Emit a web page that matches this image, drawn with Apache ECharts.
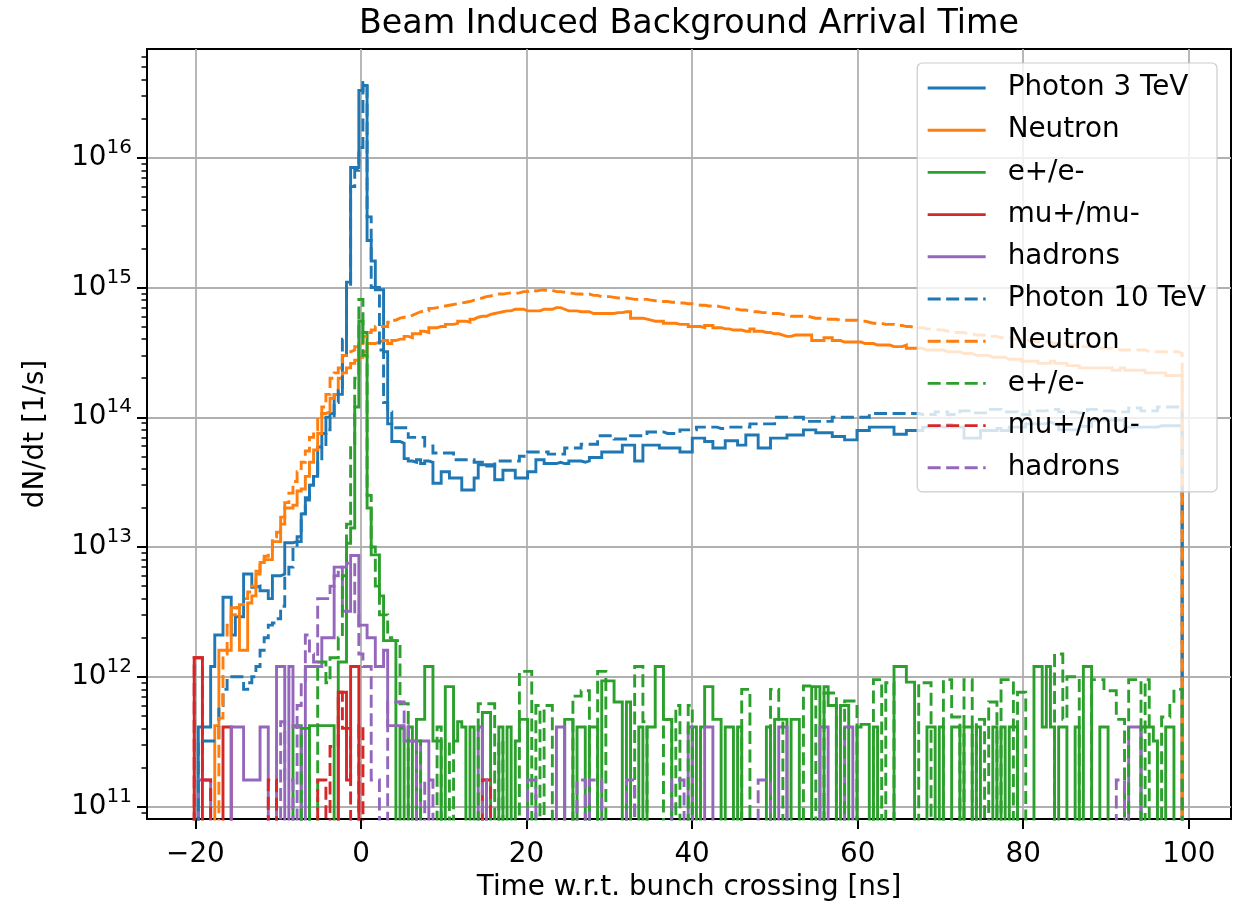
<!DOCTYPE html>
<html><head><meta charset="utf-8">
<script src="https://cdn.jsdelivr.net/npm/echarts@6/dist/echarts.min.js"></script>
<style>html,body{margin:0;padding:0;background:#fff}#c{width:1242px;height:907px}</style>
</head><body><div id="c"></div>
<script>
// ---- histogram binning (ns) ----
const binStart = -20.15;
const binWidth = 0.4973;

// ---- series values: dN/dt [1/s] per bin (240 bins) ----
const photon3 = [
0,4.1e11,4.1e11,4.1e11,1.2e12,2.1e12,2.1e12,4.1e12,4.1e12,2.1e12,2.9e12,2.9e12,6.2e12,6.2e12,4.9e12,5.0e12,4.6e12,4.6e12,4.0e12,6.0e12,
6.0e12,6.2e12,1.08e13,1.08e13,1.1e13,1.1e13,1.8e13,2.4e13,3.0e13,3.5e13,5.9e13,7.5e13,1.0e14,1.07e14,1.5e14,1.5e14,3.0e14,1.1e15,8.4e15,8.4e15,
3.3e16,3.6e16,2.3e15,1.6e15,9.6e14,9.6e14,3.2e14,8.9e13,6.5e13,6.5e13,6.3e13,4.8e13,4.6e13,4.5e13,4.7e13,4.4e13,4.6e13,4.5e13,3.1e13,3.1e13,
3.8e13,3.8e13,3.4e13,3.4e13,3.4e13,2.75e13,2.75e13,2.75e13,3.4e13,4.3e13,4.3e13,4.3e13,4.3e13,3.3e13,3.3e13,3.9e13,3.9e13,3.9e13,3.4e13,3.4e13,
3.4e13,3.8e13,3.8e13,4.7e13,4.7e13,4.4e13,4.4e13,4.4e13,4.5e13,4.4e13,4.4e13,4.6e13,4.6e13,4.6e13,4.5e13,4.6e13,4.9e13,4.9e13,4.9e13,5.4e13,
5.4e13,5.4e13,5.4e13,5.4e13,6.1e13,6.1e13,6.1e13,4.6e13,4.6e13,6.1e13,6.1e13,6.1e13,6.1e13,5.8e13,5.8e13,5.8e13,5.8e13,5.8e13,5.4e13,5.4e13,
5.4e13,6.9e13,6.9e13,6.9e13,6.5e13,6.5e13,5.8e13,5.8e13,5.8e13,6.6e13,6.6e13,6.6e13,6.1e13,6.1e13,7.3e13,7.3e13,7.3e13,5.8e13,5.8e13,5.8e13,
6.9e13,6.9e13,6.9e13,6.9e13,7.3e13,7.3e13,7.3e13,7.3e13,8.0e13,8.0e13,8.0e13,7.6e13,7.6e13,7.6e13,7.6e13,7.1e13,7.1e13,7.1e13,6.7e13,6.7e13,
6.7e13,7.9e13,7.9e13,7.9e13,8.4e13,8.4e13,8.4e13,8.4e13,8.4e13,8.4e13,7.4e13,7.4e13,7.4e13,7.9e13,7.9e13,7.9e13,7.9e13,8.4e13,8.4e13,8.4e13,
8.6e13,8.4e13,8.4e13,8.8e13,8.4e13,8.4e13,8.4e13,6.9e13,6.9e13,6.9e13,6.9e13,7.9e13,7.9e13,7.9e13,7.9e13,8.2e13,7.9e13,7.9e13,8.4e13,8.4e13,
8.4e13,8.4e13,8.9e13,8.9e13,8.9e13,8.9e13,8.9e13,9.2e13,8.9e13,8.9e13,8.0e13,8.0e13,8.0e13,8.0e13,8.0e13,8.5e13,8.5e13,8.5e13,9.5e13,9.5e13,
9.5e13,9.5e13,9.5e13,9.5e13,9.5e13,9.5e13,8.4e13,8.4e13,8.4e13,8.4e13,8.4e13,8.4e13,8.4e13,8.4e13,8.6e13,8.6e13,8.6e13,8.6e13,8.6e13,8.6e13];

const neutron3 = [
0,0,0,0,0,4.2e11,1.6e12,1.6e12,1.6e12,3.4e12,3.4e12,1.6e12,1.6e12,3.7e12,4.2e12,6.2e12,7.6e12,8e12,8e12,1.1e13,
1.1e13,1.5e13,2.0e13,2.0e13,2.1e13,2.7e13,2.8e13,3.5e13,4.5e13,5.6e13,7.5e13,1.07e14,1.1e14,1.4e14,1.5e14,2.0e14,2.2e14,2.4e14,2.6e14,2.75e14,
2.9e14,3.2e14,3.7e14,3.7e14,3.8e14,3.9e14,3.9e14,3.7e14,3.9e14,4.0e14,4.0e14,4.2e14,4.1e14,4.4e14,4.4e14,4.6e14,4.5e14,4.9e14,4.9e14,5.0e14,
5.0e14,5.2e14,5.2e14,5.3e14,5.5e14,5.5e14,5.4e14,5.7e14,5.9e14,6.0e14,6.0e14,6.2e14,6.3e14,6.4e14,6.5e14,6.6e14,6.6e14,6.8e14,6.8e14,6.8e14,
6.6e14,6.6e14,6.6e14,6.6e14,6.8e14,6.8e14,6.8e14,7.0e14,7.0e14,6.8e14,6.6e14,6.6e14,6.6e14,6.5e14,6.5e14,6.5e14,6.3e14,6.3e14,6.3e14,6.3e14,
6.3e14,6.3e14,6.4e14,6.4e14,6.5e14,6.5e14,5.8e14,5.8e14,5.8e14,5.7e14,5.6e14,5.5e14,5.5e14,5.5e14,5.3e14,5.3e14,5.3e14,5.2e14,5.2e14,5.2e14,
5.0e14,5.0e14,5.0e14,4.9e14,5.1e14,5.1e14,4.9e14,4.9e14,4.8e14,4.8e14,4.7e14,4.7e14,4.7e14,4.6e14,4.6e14,4.8e14,4.6e14,4.6e14,4.5e14,4.5e14,
4.4e14,4.4e14,4.3e14,4.2e14,4.2e14,4.3e14,4.3e14,4.3e14,4.3e14,4.3e14,3.9e14,3.9e14,3.9e14,4.1e14,4.1e14,3.9e14,3.9e14,3.8e14,3.8e14,3.8e14,
3.8e14,3.8e14,3.7e14,3.7e14,3.7e14,3.6e14,3.6e14,3.6e14,3.6e14,3.5e14,3.5e14,3.5e14,3.6e14,3.4e14,3.4e14,3.4e14,3.4e14,3.3e14,3.3e14,3.3e14,
3.3e14,3.3e14,3.2e14,3.2e14,3.2e14,3.2e14,3.1e14,3.1e14,3.1e14,3.0e14,3.0e14,3.0e14,3.0e14,2.9e14,2.9e14,2.9e14,2.9e14,2.8e14,2.8e14,2.8e14,
2.8e14,2.7e14,2.7e14,2.7e14,2.7e14,2.6e14,2.6e14,2.6e14,2.7e14,2.6e14,2.6e14,2.6e14,2.5e14,2.5e14,2.5e14,2.4e14,2.4e14,2.4e14,2.4e14,2.4e14,
2.4e14,2.4e14,2.4e14,2.3e14,2.3e14,2.4e14,2.3e14,2.3e14,2.3e14,2.3e14,2.3e14,2.2e14,2.2e14,2.2e14,2.2e14,2.2e14,2.1e14,2.1e14,2.1e14,2.1e14];

const ee3 = [
0,0,0,0,0,0,0,0,0,0,0,0,0,0,0,0,0,0,0,0,
0,0,0,0,4.2e11,4.2e11,0,0,4.2e11,4.2e11,4.2e11,4.2e11,4.2e11,4.2e11,0,1.3e12,1.3e12,1.07e13,1.4e13,1.2e14,
5.5e14,4.5e14,2.0e13,8.7e12,8.7e12,4.2e12,1.9e12,1.9e12,1.9e12,0,4.0e11,0,4.1e11,0,4.7e11,4.7e11,1.2e12,1.2e12,3.2e11,3.2e11,
0,8.4e11,8.4e11,3.2e11,4.5e11,4.1e11,0,4.1e11,0,0,5.3e11,5.3e11,0,0,4.1e11,0,4.1e11,0,3.2e11,4.7e11,
4.7e11,0,0,0,0,0,0,0,0,0,4.7e11,4.7e11,0,4.1e11,4.1e11,0,4.1e11,4.1e11,0,9.3e11,
9.3e11,9.3e11,6.4e11,6.4e11,0,6.4e11,0,0,4.1e11,0,4.1e11,4.1e11,1.2e12,1.2e12,4.7e11,4.7e11,0,0,0,0,
0,4.1e11,0,4.1e11,8.4e11,8.4e11,4.7e11,4.7e11,0,4.1e11,4.1e11,0,4.1e11,0,0,0,0,0,0,4.1e11,
0,4.7e11,4.7e11,4.7e11,0,4.7e11,4.7e11,0,0,0,8.4e11,8.4e11,0,8.4e11,6e11,6e11,0,6e11,6e11,0,
0,4.1e11,4.3e11,4.3e11,0,4.1e11,0,0,0,0,1.2e12,1.2e12,1.2e12,9.1e11,9.1e11,0,0,0,4.1e11,4.1e11,
0,4.1e11,0,0,4.1e11,4.1e11,0,4.1e11,4.1e11,0,4.1e11,0,0,0,4.1e11,0,4.1e11,0,4.1e11,4.1e11,
0,0,0,0,1.2e12,1.2e12,4.1e11,1.2e12,4.1e11,0,4.1e11,4.1e11,0,0,4.1e11,0,1.2e12,1.2e12,0,0,
4.1e11,4.1e11,0,0,0,0,0,0,0,0,4.1e11,4.1e11,4.1e11,3.2e11,0,0,4.1e11,4.1e11,0,0];

const mumu3 = [
1.4e12,1.4e12,0,0,0,0,0,4.1e11,4.1e11,0,0,0,0,0,0,0,0,0,0,0,
0,0,0,0,0,0,0,0,0,0,0,0,0,0,0,7.6e11,7.6e11,1.6e11,1.2e12,1.2e12,
0,0,0,0,0,0,0,0,0,0,0,0,0,0,0,0,0,0,0,0,
0,0,0,0,0,0,0,0,0,0,0,0,0,0,0,0,0,0,0,0,
0,0,0,0,0,0,0,0,0,0,0,0,0,0,0,0,0,0,0,0,
0,0,0,0,0,0,0,0,0,0,0,0,0,0,0,0,0,0,0,0,
0,0,0,0,0,0,0,0,0,0,0,0,0,0,0,0,0,0,0,0,
0,0,0,0,0,0,0,0,0,0,0,0,0,0,0,0,0,0,0,0,
0,0,0,0,0,0,0,0,0,0,0,0,0,0,0,0,0,0,0,0,
0,0,0,0,0,0,0,0,0,0,0,0,0,0,0,0,0,0,0,0,
0,0,0,0,0,0,0,0,0,0,0,0,0,0,0,0,0,0,0,0,
0,0,0,0,0,0,0,0,0,0,0,0,0,0,0,0,0,0,0,0];

const hadrons3 = [
0,1.6e11,1.6e11,1.6e11,0,0,0,0,0,4.1e11,4.1e11,4.1e11,1.6e11,1.6e11,1.6e11,1.6e11,4.1e11,4.1e11,0,0,
1.2e12,1.2e12,0,1.2e12,4.1e11,4.1e11,0,1.2e12,1.2e12,1.2e12,1.2e12,2.0e12,2.0e12,2.0e12,7e12,7e12,3.2e12,3.2e12,8.6e12,8.6e12,
2.5e12,2.5e12,2.0e12,2.0e12,1.2e12,1.2e12,1.6e12,4.2e11,4.2e11,4.2e11,4.2e11,3.2e11,3.2e11,3.2e11,0,3.2e11,3.2e11,0,0,0,
0,0,0,0,0,0,0,0,0,4.1e11,1.6e11,0,0,0,0,0,0,0,0,0,
0,0,0,0,0,0,0,0,4.1e11,4.1e11,0,0,0,0,0,0,0,0,0,0,
0,0,0,0,0,0,0,0,0,0,0,0,0,0,0,0,0,0,0,0,
4.1e11,0,0,0,4.1e11,4.1e11,0,0,0,0,0,0,0,0,0,0,0,0,0,0,
0,0,4.1e11,4.1e11,0,0,0,0,0,0,0,0,4.1e11,4.1e11,0,0,0,0,4.1e11,4.1e11,
0,0,0,0,0,0,0,0,0,0,0,0,0,0,0,0,0,0,0,0,
0,0,0,0,0,0,0,0,0,0,0,0,0,0,0,0,0,0,0,0,
0,0,0,0,0,0,0,0,0,0,0,0,0,0,0,0,0,0,0,0,
0,0,0,0,0,0,0,4.1e11,4.1e11,4.1e11,0,0,0,0,0,0,0,0,0,0];

const photon10 = [
0,3.2e11,3.2e11,3.2e11,3.2e11,3.2e11,6e11,8e11,1.0e12,1.0e12,1.0e12,1.0e12,8e11,9e11,1.0e12,1.2e12,1.6e12,2.0e12,2.5e12,2.6e12,
2.8e12,3.5e12,6e12,7e12,1.0e13,1.2e13,1.8e13,2.3e13,3.0e13,3.5e13,4.5e13,6e13,8e13,1.0e14,1.3e14,1.6e14,4e14,1e15,6e15,8e15,
1.2e16,3.8e16,3.5e15,1.0e15,1.0e15,3.3e14,1.3e14,1.1e14,8.3e13,8.3e13,8.3e13,8.3e13,7e13,7e13,7e13,7e13,6e13,6e13,5.3e13,5.3e13,
5.3e13,5.3e13,5.3e13,4.7e13,4.7e13,4.7e13,4.7e13,4.7e13,4.5e13,4.5e13,4.2e13,4.2e13,4.2e13,4.6e13,4.6e13,4.6e13,4.6e13,4.6e13,4.6e13,5.0e13,
5.0e13,5.4e13,5.4e13,5.4e13,5.4e13,5.4e13,5.2e13,5.2e13,5.2e13,5.2e13,5.8e13,5.8e13,5.8e13,5.8e13,6.2e13,6.2e13,6.2e13,6.2e13,7.2e13,7.2e13,
7.2e13,7.2e13,6.8e13,6.8e13,6.8e13,6.8e13,7.2e13,7.2e13,7.2e13,7.2e13,7.7e13,7.7e13,7.7e13,7.7e13,7.5e13,7.5e13,7.5e13,7.5e13,8.0e13,8.0e13,
8.0e13,8.0e13,8.4e13,8.4e13,8.4e13,8.4e13,8.4e13,8.2e13,8.2e13,8.4e13,8.4e13,8.4e13,8.4e13,8.4e13,8.4e13,8.9e13,8.9e13,8.9e13,8.9e13,8.9e13,
8.9e13,1.0e14,1.0e14,1.0e14,1.0e14,1.0e14,1.0e14,1.0e14,9.3e13,9.3e13,9.3e13,9.3e13,9.3e13,9.3e13,9.3e13,1.0e14,1.0e14,1.0e14,1.0e14,1.0e14,
1.0e14,1.0e14,1.0e14,1.0e14,1.07e14,1.07e14,1.07e14,1.07e14,1.07e14,1.07e14,1.07e14,1.07e14,1.07e14,1.07e14,1.07e14,1.07e14,1.05e14,1.05e14,1.05e14,1.05e14,
1.1e14,1.1e14,1.1e14,1.05e14,1.05e14,1.05e14,1.12e14,1.12e14,1.12e14,1.08e14,1.08e14,1.08e14,1.08e14,1.15e14,1.15e14,1.15e14,1.1e14,1.1e14,1.1e14,1.1e14,
1.05e14,1.05e14,1.05e14,1.12e14,1.12e14,1.12e14,1.12e14,1.15e14,1.15e14,1.15e14,1.1e14,1.1e14,1.1e14,1.1e14,1.08e14,1.08e14,1.08e14,1.15e14,1.15e14,1.15e14,
1.12e14,1.12e14,1.12e14,1.1e14,1.1e14,1.1e14,1.1e14,1.18e14,1.18e14,1.18e14,1.12e14,1.12e14,1.12e14,1.12e14,1.2e14,1.2e14,1.2e14,1.2e14,1.2e14,1.2e14];

const neutron10 = [
0,0,0,0,0,0,4.8e11,1.5e12,2.5e12,3.0e12,3.4e12,3.6e12,4.0e12,4.5e12,5e12,6.5e12,7.5e12,8.5e12,9e12,1.2e13,
1.3e13,1.7e13,2.2e13,2.6e13,3.2e13,3.8e13,4.5e13,5.5e13,7e13,8e13,1.0e14,1.2e14,1.5e14,2.0e14,2.2e14,2.4e14,3.0e14,3.2e14,3.3e14,3.5e14,
3.7e14,4.2e14,4.5e14,4.7e14,5.0e14,5.0e14,5.0e14,5.4e14,5.6e14,5.8e14,5.9e14,5.9e14,6.1e14,6.3e14,6.5e14,6.6e14,6.6e14,6.9e14,7.0e14,7.2e14,
7.2e14,7.3e14,7.4e14,7.5e14,7.6e14,7.7e14,7.8e14,8.0e14,8.2e14,8.3e14,8.5e14,8.6e14,8.8e14,8.9e14,8.9e14,9.0e14,9.1e14,9.0e14,9.1e14,9.3e14,
9.3e14,9.6e14,9.4e14,9.5e14,9.6e14,9.4e14,9.5e14,9.3e14,9.3e14,9.2e14,9.1e14,9.0e14,8.9e14,8.9e14,8.8e14,8.9e14,8.7e14,8.7e14,8.5e14,8.5e14,
8.5e14,8.4e14,8.3e14,8.3e14,8.3e14,8.2e14,8.1e14,8.1e14,8.1e14,8.1e14,8.0e14,7.9e14,7.9e14,7.8e14,7.8e14,7.7e14,7.7e14,7.6e14,7.6e14,7.5e14,
7.5e14,7.4e14,7.3e14,7.3e14,7.2e14,7.2e14,7.2e14,7.1e14,7.0e14,6.9e14,6.9e14,6.8e14,6.7e14,6.7e14,6.6e14,6.5e14,6.5e14,6.4e14,6.4e14,6.3e14,
6.3e14,6.3e14,6.2e14,6.1e14,6.0e14,6.0e14,6.0e14,6.0e14,6.0e14,5.9e14,5.8e14,5.8e14,5.8e14,5.7e14,5.7e14,5.7e14,5.6e14,5.6e14,5.6e14,5.6e14,
5.6e14,5.5e14,5.5e14,5.4e14,5.3e14,5.3e14,5.3e14,5.2e14,5.2e14,5.2e14,5.1e14,5.1e14,5.0e14,5.0e14,4.9e14,4.9e14,4.9e14,4.8e14,4.8e14,4.8e14,
4.7e14,4.7e14,4.6e14,4.6e14,4.5e14,4.5e14,4.5e14,4.4e14,4.4e14,4.3e14,4.3e14,4.3e14,4.2e14,4.2e14,4.2e14,4.1e14,4.1e14,4.1e14,4.0e14,4.0e14,
4.0e14,3.9e14,3.9e14,3.9e14,3.8e14,3.8e14,3.8e14,3.8e14,3.7e14,3.7e14,3.7e14,3.6e14,3.6e14,3.6e14,3.6e14,3.5e14,3.5e14,3.5e14,3.5e14,3.4e14,
3.4e14,3.4e14,3.4e14,3.4e14,3.3e14,3.3e14,3.3e14,3.3e14,3.3e14,3.3e14,3.3e14,3.2e14,3.2e14,3.2e14,3.2e14,3.2e14,3.2e14,3.2e14,3.2e14,3.1e14];

const ee10 = [
0,0,0,0,0,0,0,0,0,0,0,0,0,0,0,0,0,0,0,0,
0,0,0,0,0,0,4e11,4e11,0,0,1.3e12,1.3e12,9e11,1.4e12,1.4e12,2e12,6e12,1.5e13,6e13,2e14,
8.1e14,3e14,2.5e13,1.0e13,5e12,3e12,3e12,2.0e12,1.9e12,1.9e12,6.2e11,6.2e11,0,0,3.2e11,0,0,0,0,4.1e11,
0,0,3.2e11,0,0,0,0,0,0,6.2e11,6.2e11,6.2e11,6.2e11,0,3.2e11,0,0,0,0,1.1e12,
1.1e12,1.1e12,0,6e11,0,6e11,6e11,0,0,0,0,0,7.1e11,7.1e11,7.8e11,7.8e11,0,0,1.1e12,1.1e12,
0,0,0,0,0,0,0,1.2e12,1.2e12,4.5e11,0,0,0,0,4.7e11,4.7e11,0,6e11,0,0,
6e11,0,0,0,0,0,0,0,0,0,0,0,0,8e11,8e11,0,0,0,0,0,
8e11,8e11,4.7e11,0,0,0,0,0,8.5e11,8.5e11,8.5e11,0,0,7.5e11,7.5e11,7.5e11,0,0,6.5e11,6.5e11,
6.5e11,0,0,0,0,9.5e11,9.5e11,0,9e11,9e11,0,0,0,0,0,0,9e11,9e11,9e11,0,
0,0,9.5e11,9.5e11,4.9e11,4.9e11,0,9.5e11,9.5e11,0,4.7e11,4.7e11,0,6.4e11,6.4e11,0,9.5e11,9.5e11,9.5e11,0,
7.6e11,7.6e11,0,0,0,0,0,0,0,1.5e12,1.5e12,4.7e11,1.0e12,1.0e12,1.0e12,0,0,0,9.5e11,9.5e11,
9.5e11,7.8e11,7.8e11,7.8e11,4.7e11,4.7e11,0,9.5e11,9.5e11,9.5e11,0,9.5e11,0,0,0,4.9e11,4.9e11,6.2e11,8e11,8e11];

const mumu10 = [
1.4e12,1.4e12,1.6e11,1.6e11,0,0,0,0,0,0,0,0,0,0,0,0,0,0,1.6e11,1.6e11,
0,0,0,0,0,0,0,0,0,0,1.6e11,1.6e11,0,2.9e11,2.9e11,7.6e11,4e11,4e11,0,0,
4.2e11,0,0,0,0,0,0,0,0,0,0,0,0,0,0,0,0,0,0,0,
0,0,0,0,0,0,0,0,0,0,1.6e11,1.6e11,0,0,0,0,0,0,0,0,
0,0,0,0,0,0,0,0,0,0,0,0,0,0,0,0,0,0,0,0,
0,0,0,0,0,0,0,0,0,0,0,0,0,0,0,0,0,0,0,0,
0,0,0,0,0,0,0,0,0,0,0,0,0,0,0,0,0,0,0,0,
0,0,0,0,0,0,0,0,0,0,0,0,0,0,0,0,0,0,0,0,
0,0,0,0,0,0,0,0,0,0,0,0,0,0,0,0,0,0,0,0,
0,0,0,0,0,0,0,0,0,0,0,0,0,0,0,0,0,0,0,0,
0,0,0,0,0,0,0,0,0,0,0,0,0,0,0,0,0,0,0,0,
0,0,0,0,0,0,0,0,0,0,0,0,0,0,0,0,0,0,0,0];

const hadrons10 = [
0,0,0,0,0,0,0,0,0,0,0,0,0,0,0,0,0,0,0,0,
0,4.5e11,1.6e11,1.6e11,0,6e11,9e11,2.1e12,1.5e12,1.3e12,4e12,4e12,4e12,5e12,6e12,7e12,7e12,7.5e12,7.5e12,3e12,
1.5e12,1.2e12,1.2e12,1.6e11,1.6e11,0,0,6.4e11,6.4e11,6.4e11,6.4e11,4.2e11,3.2e11,3.2e11,0,0,1.6e11,1.6e11,0,0,
0,0,0,0,0,0,0,0,0,0,1.6e11,0,0,0,0,0,0,0,0,0,
0,1.6e11,1.6e11,0,0,0,0,0,0,0,0,0,0,1.6e11,1.6e11,0,1.6e11,1.6e11,1.6e11,0,
0,0,0,0,0,1.6e11,1.6e11,0,0,0,0,0,0,0,0,0,1.6e11,1.6e11,1.6e11,0,
0,0,0,0,0,0,0,0,0,0,0,0,0,0,0,0,0,1.6e11,1.6e11,1.6e11,
0,0,0,0,0,0,0,0,0,0,0,0,0,0,0,0,0,0,0,0,
0,0,0,0,0,0,0,0,0,0,0,0,0,0,0,0,0,0,0,0,
0,0,0,0,0,0,0,0,0,0,0,0,0,0,0,0,0,0,0,0,
0,0,0,0,0,0,0,0,0,0,0,0,0,0,0,0,0,0,0,0,
0,0,0,0,1.6e11,1.6e11,0,0,0,0,0,0,0,0,0,0,0,0,0,0];

// ---- labels / ticks ----
const seriesKeys   = ['p3','n3','e3','m3','h3','p10','n10','e10','m10','h10'];
const legendLabels = ['Photon 3 TeV','Neutron','e+/e-','mu+/mu-','hadrons','Photon 10 TeV','Neutron','e+/e-','mu+/mu-','hadrons'];
const xTickValues = [-20, 0, 20, 40, 60, 80, 100];
const yTickExponents = [11, 12, 13, 14, 15, 16];
const titleText = 'Beam Induced Background Arrival Time';
const xLabel = 'Time w.r.t. bunch crossing [ns]';
const yLabel = 'dN/dt [1/s]';

// ---- style ----
const colors = ['#1f77b4','#ff7f0e','#2ca02c','#d62728','#9467bd'];
const FONT = 'DejaVu Sans';
const FS = 27.8;                         // 10 pt
const X_MIN = -25.85, X_MAX = 105.1;
const Y_MIN = 10.904, Y_MAX = 16.838;   // log10 extent
const FLOOR = 9;                         // log10 used for empty bins (below axis, clipped)

function toLog(v) { return v > 0 ? Math.log10(v) : FLOOR; }
function stepData(vals) {
  const n = vals.length;
  const pts = [[binStart, FLOOR]];
  for (let k = 0; k < n; k++) pts.push([binStart + k * binWidth, toLog(vals[k])]);
  pts.push([binStart + n * binWidth, toLog(vals[n - 1])]);
  pts.push([binStart + n * binWidth, FLOOR]);
  return pts;
}

const allVals = [photon3, neutron3, ee3, mumu3, hadrons3, photon10, neutron10, ee10, mumu10, hadrons10];
const labelOf = {};
seriesKeys.forEach((k, i) => labelOf[k] = legendLabels[i]);

const series = allVals.map((vals, i) => {
  const dashed = i >= 5;
  const c = colors[i % 5];
  return {
    name: seriesKeys[i], type: 'line', step: 'end',
    data: stepData(vals), showSymbol: false, symbol: 'none',
    clip: true, animation: false, silent: true,
    itemStyle: { color: c },
    lineStyle: { color: c, width: 2.9, type: dashed ? [13, 5.5] : 'solid', cap: 'butt', join: 'miter' }
  };
});

const minorTicks = [];
for (let n = 10; n <= 16; n++) for (let k = 2; k <= 9; k++) {
  const v = n + Math.log10(k);
  if (v > Y_MIN && v < Y_MAX) minorTicks.push(v);
}

const chart = echarts.init(document.getElementById('c'), null, { renderer: 'canvas' });
chart.setOption({
  animation: false,
  backgroundColor: '#ffffff',
  textStyle: { fontFamily: FONT },
  title: {
    text: titleText, left: 359, top: 8, padding: 0,
    textStyle: { fontFamily: FONT, fontSize: 33.3, fontWeight: 'normal', color: '#000' }
  },
  grid: {
    left: 147, right: 11, top: 49, bottom: 86,
    show: true, borderColor: '#000', borderWidth: 2, backgroundColor: 'transparent'
  },
  legend: {
    orient: 'vertical', right: 25, top: 63,
    data: seriesKeys,
    formatter: name => labelOf[name],
    itemWidth: 58, itemHeight: 4, itemGap: 14.2,
    padding: [11, 11, 10, 9],
    backgroundColor: 'rgba(255,255,255,0.8)',
    borderColor: '#cccccc', borderWidth: 1.2, borderRadius: 5,
    selectedMode: false,
    itemStyle: { opacity: 0 },
    lineStyle: { width: 2.9 },
    textStyle: { fontFamily: FONT, fontSize: FS, color: '#000', lineHeight: 27.8, padding: [0, 0, 0, 17] }
  },
  xAxis: {
    type: 'value', min: X_MIN, max: X_MAX,
    name: xLabel, nameLocation: 'middle', nameGap: 55,
    nameTextStyle: { fontFamily: FONT, fontSize: FS, color: '#000' },
    axisLine: { show: true, onZero: false, lineStyle: { color: '#000', width: 2 } },
    axisTick: { show: true, length: 10, customValues: xTickValues, lineStyle: { color: '#000', width: 2 } },
    axisLabel: {
      customValues: xTickValues, margin: 22,
      fontFamily: FONT, fontSize: FS, color: '#000',
      formatter: v => (v < 0 ? '\u2212' + Math.abs(v) : String(v))
    },
    splitLine: { show: true, lineStyle: { color: '#b0b0b0', width: 1.8 } }
  },
  yAxis: [{
    type: 'value', min: Y_MIN, max: Y_MAX, position: 'left',
    name: yLabel, nameLocation: 'middle', nameGap: 97,
    nameTextStyle: { fontFamily: FONT, fontSize: FS, color: '#000' },
    axisLine: { show: true, onZero: false, lineStyle: { color: '#000', width: 2 } },
    axisTick: { show: true, length: 10, customValues: yTickExponents, lineStyle: { color: '#000', width: 2 } },
    axisLabel: {
      customValues: yTickExponents, margin: 15,
      formatter: v => '{b|10}{s|' + Math.round(v) + '}',
      rich: {
        b: { fontFamily: FONT, fontSize: FS, color: '#000' },
        s: { fontFamily: FONT, fontSize: 20, color: '#000', padding: [0, 0, 20, 0] }
      }
    },
    splitLine: { show: true, lineStyle: { color: '#b0b0b0', width: 1.8 } }
  }, {
    type: 'value', min: Y_MIN, max: Y_MAX, position: 'left', offset: 0,
    axisLine: { show: false, onZero: false },
    axisTick: { show: true, length: 5.5, customValues: minorTicks, lineStyle: { color: '#000', width: 1.5 } },
    axisLabel: { show: false },
    splitLine: { show: false }
  }],
  series: series
});
</script>
</body></html>
